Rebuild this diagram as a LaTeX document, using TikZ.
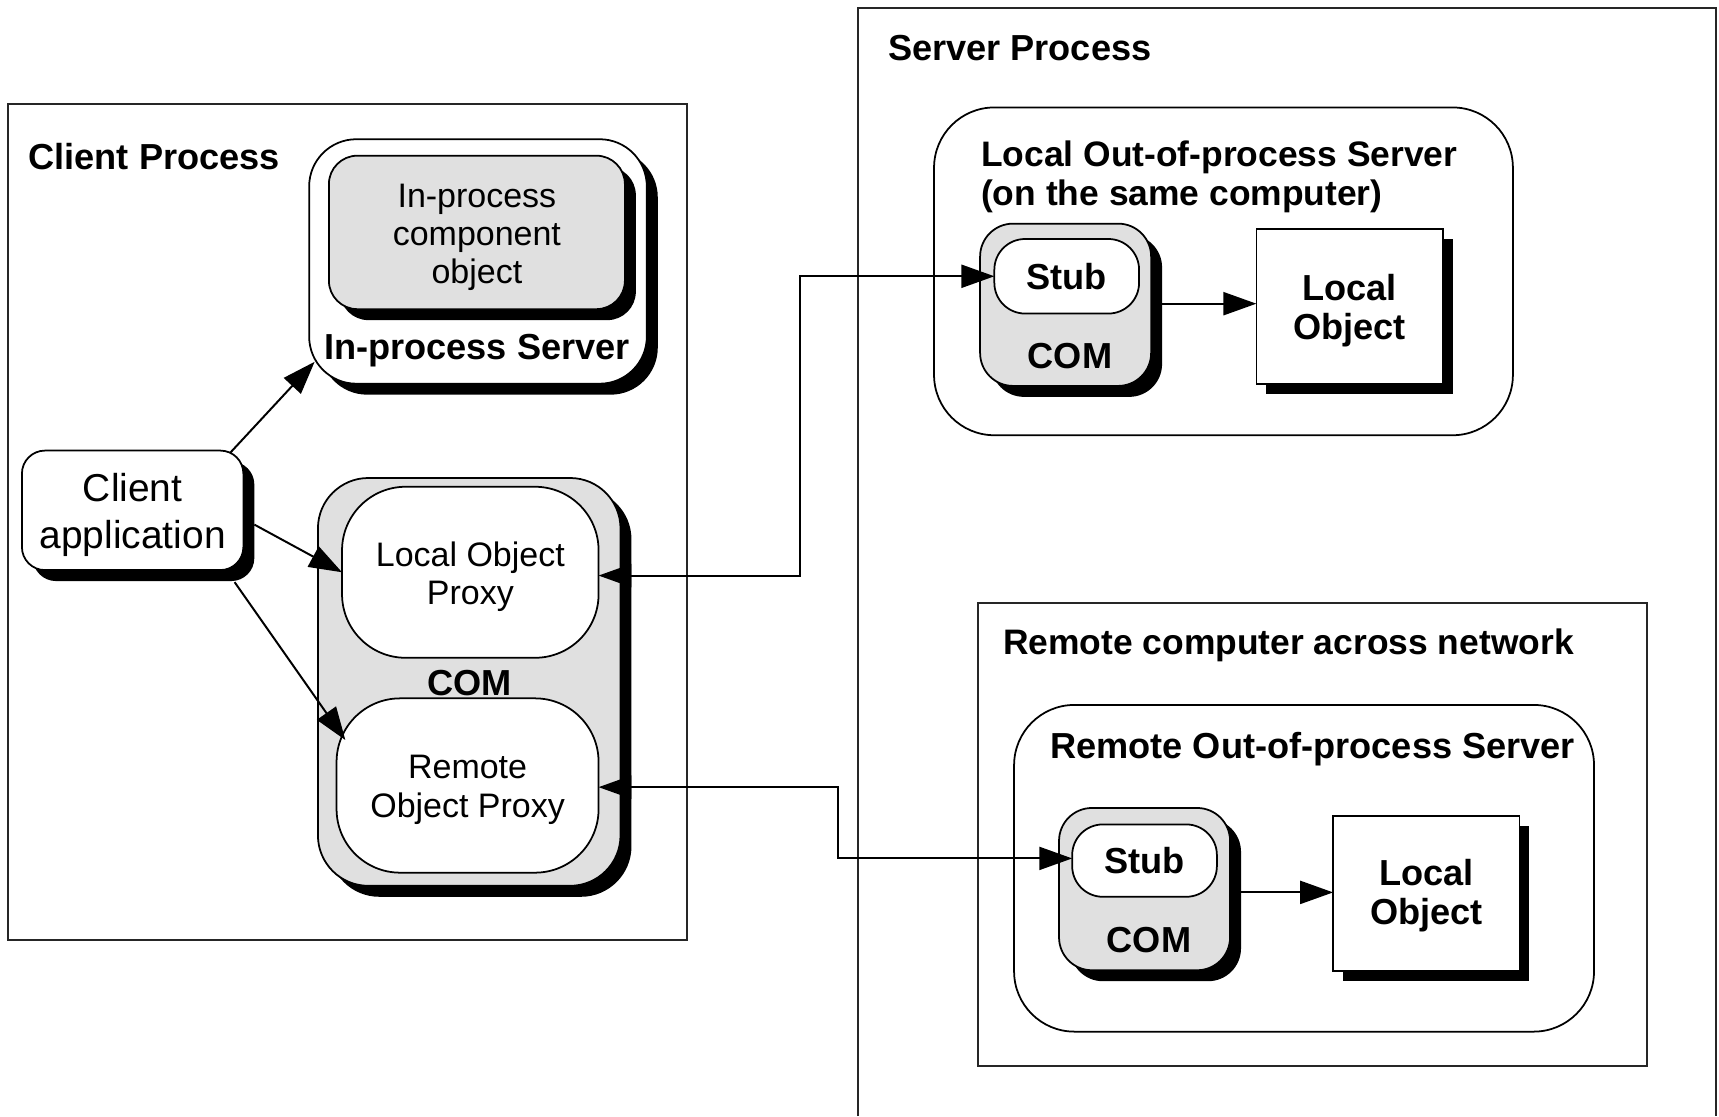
\documentclass[tikz,border=0pt]{standalone}
\usepackage{fontspec}
\setmainfont{Liberation Sans}
\usetikzlibrary{arrows.meta,shadows,calc}

\definecolor{comgray}{RGB}{224,224,224}

\begin{document}
\begin{tikzpicture}[x=1pt,y=-1pt,
  every node/.style={inner sep=0pt, outer sep=0pt, align=center},
  frame/.style={draw=black!85, line width=1.8pt},
  box/.style={draw, line width=1.6pt, fill=white},
  shadowed/.style={drop shadow={shadow xshift=10pt, shadow yshift=-10pt, fill=black, opacity=1}},
  shadowsq/.style={drop shadow={shadow xshift=9pt, shadow yshift=-9pt, fill=black, opacity=1}},
  bold/.style={font=\fontsize{33pt}{35pt}\selectfont\bfseries},
  boldsm/.style={font=\fontsize{32.3pt}{35pt}\selectfont\bfseries},
  txt/.style={font=\fontsize{31pt}{35pt}\selectfont},
  bigtxt/.style={font=\fontsize{35.5pt}{43pt}\selectfont},
  tip/.tip={Triangle[length=30pt, width=21pt]},
  arr/.style={line width=1.8pt, -tip},
  biarr/.style={line width=1.8pt, tip-tip}
]
\useasboundingbox (0,0) rectangle (1568,1018);
\fill[white] (0,0) rectangle (1568,1018);

% ---------- client process ----------
\node[frame, minimum width=620pt, minimum height=762pt] (clientproc) at (317,476) {};
\node[bold, anchor=base west] (clientlbl) at (26,155) {Client Process};

\node[box, shadowed, rounded corners=43pt, minimum width=308pt, minimum height=223pt] (inproc) at (436,238.5) {};
\node[box, shadowed, fill=comgray, rounded corners=26pt, minimum width=270pt, minimum height=140pt] (inobj) at (435,212) {};
\node[txt] (inobjT) at ([yshift=-4.5pt]inobj.center) {In-process\\component\\object};
\node[bold, anchor=base] (inproclbl) at (435,328) {In-process Server};

\node[box, shadowed, rounded corners=21pt, minimum width=202pt, minimum height=109pt] (capp) at (121,465.5) {};
\node[bigtxt] (cappT) at ([yshift=-4pt]capp.center) {Client\\application};

\node[box, shadowed, fill=comgray, rounded corners=46pt, minimum width=276pt, minimum height=372pt] (comC) at (428,622) {};
\node[box, rounded corners=58pt, minimum width=234pt, minimum height=156pt] (lop) at (429,522) {};
\node[txt] (lopT) at ([yshift=-4pt]lop.center) {Local Object\\Proxy};
\node[box, rounded corners=58pt, minimum width=239pt, minimum height=159pt] (rop) at (426.5,716.5) {};
\node[txt] (ropT) at ([yshift=-4pt]rop.center) {Remote\\Object Proxy};
\node[bold, anchor=base] (comClbl) at (428,634) {COM};

% ---------- server process ----------
\draw[frame] (783,1018) -- (783,7) -- (1565,7) -- (1565,1018);
\node[bold, anchor=base west] (serverlbl) at (810,55) {Server Process};

\node[box, rounded corners=55pt, minimum width=528pt, minimum height=299pt] (loop) at (1116,247.5) {};
\node[boldsm, anchor=base west] (loopA) at (895,152) {Local Out-of-process Server};
\node[boldsm, anchor=base west] (loopB) at (895,187) {(on the same computer)};
\node[box, shadowed, fill=comgray, rounded corners=30pt, minimum width=156pt, minimum height=148pt] (comL) at (972,278) {};
\node[box, rounded corners=28pt, minimum width=132pt, minimum height=68pt, bold] (stubL) at (973,252) {Stub};
\node[bold, anchor=base] (comLlbl) at (976,336) {COM};
\node[box, shadowsq, minimum width=170pt, minimum height=141pt] (objL) at (1231,279.5) {};
\node[bold] (objLT) at ([yshift=-4pt]objL.center) {Local\\Object};

% ---------- remote computer ----------
\node[frame, minimum width=610pt, minimum height=422pt] (remote) at (1197,761) {};
\node[boldsm, anchor=base west] (remotelbl) at (915,597) {Remote computer across network};
\node[box, rounded corners=55pt, minimum width=529pt, minimum height=298pt] (roop) at (1189.5,792) {};
\node[bold, anchor=base west] (roopT) at (958,692) {Remote Out-of-process Server};
\node[box, shadowed, fill=comgray, rounded corners=30pt, minimum width=156pt, minimum height=148pt] (comR) at (1044,811) {};
\node[box, rounded corners=28pt, minimum width=132pt, minimum height=66pt, bold] (stubR) at (1044,785) {Stub};
\node[bold, anchor=base] (comRlbl) at (1048,869) {COM};
\node[box, shadowsq, minimum width=170pt, minimum height=142pt] (objR) at (1301,815) {};
\node[bold] (objRT) at ([yshift=-2pt]objR.center) {Local\\Object};

% ---------- connectors ----------
\draw[arr] ([xshift=-12pt,yshift=-2pt]capp.north east) -- ([xshift=5pt,yshift=20pt]inproc.south west);
\draw[arr] ([xshift=10pt,yshift=-13pt]capp.east) -- (lop.west);
\draw[arr] ([xshift=-8pt,yshift=-11pt]capp.south east) -- ([xshift=8pt,yshift=41.5pt]rop.west);

\draw[biarr] ([yshift=-3pt]lop.east) -- ++(184,0) |- (stubL.west);
\draw[biarr] ([yshift=-1.5pt]rop.east) -- ++(218,0) |- ([yshift=2pt]stubR.west);

\draw[arr] ([yshift=1pt]comL.east) -- ([yshift=1pt]comL.east -| objL.west);
\draw[arr] ([yshift=-3pt]comR.east) -- ([yshift=-3pt]comR.east -| objR.west);
\end{tikzpicture}
\end{document}
